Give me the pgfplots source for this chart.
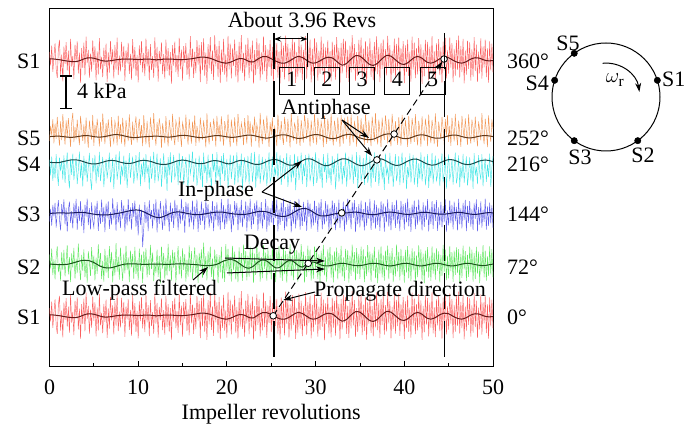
\documentclass[border=0pt]{standalone}
\usepackage{pgfplots}
\pgfplotsset{compat=1.18}
\usepackage{pgfplotstable}
\usepackage{fontspec}
\setmainfont{Liberation Serif}
\usetikzlibrary{arrows.meta}

\definecolor{nred}{RGB}{250,95,95}
\definecolor{norange}{RGB}{242,150,85}
\definecolor{ncyan}{RGB}{70,230,230}
\definecolor{nblue}{RGB}{95,95,235}
\definecolor{ngreen}{RGB}{95,230,95}
\definecolor{fred}{RGB}{105,25,25}
\definecolor{forange}{RGB}{95,55,25}
\definecolor{fcyan}{RGB}{25,75,75}
\definecolor{fblue}{RGB}{25,25,95}
\definecolor{fgreen}{RGB}{25,85,25}

% raw pressure signals, deviation from each probe's baseline
% a=S1 b=S5 c=S4 d=S3 e=S2
\pgfplotstableread{
x a b c d e
0 0.31 -0.18 0.10 -0.32 0.40
0.125 -0.22 0.42 -0.51 0.18 -0.15
0.25 0.55 0.05 0.22 -0.48 0.62
0.375 -0.47 0.68 -0.73 0.33 -0.41
0.5 0.12 -0.26 -0.08 -0.12 0.20
0.625 0.64 0.51 -0.62 0.41 -0.58
0.75 -0.35 -0.09 0.31 -0.56 0.33
0.875 -0.71 0.77 -0.44 0.07 0.71
1 0.43 0.12 -0.92 0.52 -0.29
1.125 0.78 -0.35 0.18 -0.25 0.05
1.25 -0.58 0.59 -0.35 -0.66 -0.63
1.375 0.20 -0.14 0.06 0.36 0.48
1.5 -0.84 0.88 -0.68 -0.08 -0.21
1.625 0.51 0.24 0.27 0.55 0.57
1.75 -0.16 -0.31 -0.81 -0.43 -0.46
1.875 0.69 0.63 -0.15 0.22 0.13
2 -0.42 -0.05 0.38 -0.71 0.76
2.125 0.36 0.72 -0.57 0.14 -0.38
2.25 -0.66 0.17 -1.02 0.46 0.29
2.375 0.82 -0.40 0.14 -0.37 -0.68
2.5 -0.27 0.54 -0.49 0.09 0.44
2.625 0.15 0.93 0.33 -0.58 -0.12
2.75 -0.75 -0.22 -0.70 0.39 0.65
2.875 0.59 0.37 -0.23 -0.19 -0.55
3 -0.08 -0.11 0.19 0.57 0.23
3.125 0.72 0.66 -0.86 -0.64 -0.33
3.25 -0.53 0.08 -0.31 0.27 0.82
3.375 0.28 -0.33 0.41 -0.29 -0.07
3.5 -0.89 0.81 -0.62 0.48 -0.61
3.625 0.46 0.29 -0.04 -0.50 0.38
3.75 -0.32 -0.17 -0.95 0.16 -0.24
3.875 0.67 0.48 0.25 -0.77 0.59
4 -0.61 -0.28 -0.52 0.34 -0.49
4.125 0.90 0.74 0.09 -0.13 0.16
4.25 -0.13 0.01 -0.77 0.58 -0.70
4.375 0.39 -0.43 -0.19 -0.46 0.52
4.5 -0.70 0.62 0.36 0.21 0.08
4.625 0.24 0.19 -0.66 -0.62 -0.44
4.75 -0.46 -0.12 -1.08 0.43 0.68
4.875 0.76 0.85 0.17 -0.27 -0.19
5 -0.20 -0.36 -0.40 -0.55 0.35
5.125 0.52 0.46 0.29 0.30 -0.62
5.25 -0.80 -0.02 -0.83 -0.09 0.27
5.375 0.33 0.70 -0.11 0.49 -0.36
5.5 -0.57 0.21 -0.58 -0.68 0.79
5.625 0.85 -0.38 0.40 0.12 -0.09
5.75 -0.37 0.57 -0.74 -0.41 0.46
5.875 0.11 -0.20 -0.27 0.54 -0.57
6 -0.68 0.90 0.21 -0.33 0.14
6.125 0.47 0.26 -0.97 0.25 -0.66
6.25 -0.24 -0.29 -0.36 -0.73 0.61
6.375 0.63 0.53 0.12 0.38 -0.31
6.5 -0.86 -0.07 -0.64 -0.16 0.37
6.625 0.29 0.67 -0.21 0.47 -0.53
6.75 -0.50 0.14 0.37 -0.60 0.72
6.875 0.74 -0.41 -0.79 0.05 -0.14
7 -0.18 0.76 -0.47 -0.44 0.50
7.125 0.41 0.03 0.16 0.59 -0.69
7.25 -0.73 -0.24 -1.05 -0.24 0.21
7.375 0.58 0.60 -0.08 0.20 -0.42
7.5 -0.38 0.33 0.30 -0.67 0.84
7.625 0.87 -0.34 -0.69 0.44 -0.27
7.75 -0.60 0.82 -0.28 -0.35 0.31
7.875 0.16 -0.10 0.42 0.11 -0.59
8 -0.45 0.49 -0.88 -0.57 0.66
8.125 0.70 -0.27 -0.13 0.52 -0.05
8.25 -0.29 0.73 -0.55 -0.20 -0.64
8.375 0.54 0.11 0.26 0.31 0.43
8.5 -0.82 -0.39 -0.72 -0.70 -0.34
8.625 0.37 0.64 0.07 0.18 0.74
8.75 -0.14 0.22 -1.00 -0.47 -0.22
8.875 0.66 -0.18 -0.33 0.56 0.28
9 -0.55 0.87 0.35 -0.31 -0.68
9.125 0.23 0.06 -0.61 0.23 0.55
9.25 -0.77 -0.32 -0.17 -0.63 -0.11
9.375 0.81 0.58 0.22 0.40 0.41
9.5 -0.34 -0.15 -0.84 -0.14 -0.56
9.625 0.49 0.41 -0.40 0.50 0.69
9.75 -0.63 0.79 0.28 -0.52 -0.37
9.875 0.19 -0.23 -0.71 0.08 0.17
10 -0.88 0.32 -0.24 -0.86 -0.61
10.125 0.56 0.69 0.39 0.34 0.62
10.25 -0.21 -0.06 -0.93 -0.45 -0.25
10.375 0.73 0.45 -0.06 0.15 0.39
10.5 -0.49 -0.37 -0.56 -1.32 -0.71
10.625 0.27 0.84 0.18 -0.60 0.52
10.75 -0.64 0.18 -0.78 0.44 -0.08
10.875 0.83 -0.30 0.31 -0.38 0.63
11 -0.26 0.61 -0.46 0.26 -0.50
11.125 0.42 0.04 -0.12 -0.69 0.22
11.25 -0.79 -0.42 -1.06 0.51 -0.40
11.375 0.61 0.75 0.23 -0.22 0.77
11.5 -0.40 0.27 -0.65 0.13 -0.18
11.625 0.14 -0.13 -0.30 -0.58 0.47
11.75 -0.70 0.92 0.40 0.37 -0.65
11.875 0.88 0.08 -0.82 -0.27 0.10
12 -0.31 -0.35 -0.19 0.55 -0.33
12.125 0.50 0.56 0.33 -0.74 0.58
12.25 -0.85 -0.01 -0.75 0.19 -0.48
12.375 0.35 0.71 -0.37 -0.41 0.34
12.5 -0.17 0.36 0.15 0.48 -0.73
12.625 0.68 -0.44 -0.96 -0.10 0.70
12.75 -0.56 0.52 -0.26 -0.64 -0.16
12.875 0.22 0.15 0.34 0.30 0.45
13 -0.74 -0.26 -0.67 -0.49 -0.59
13.125 0.79 0.80 -0.09 0.58 0.26
13.25 -0.43 0.10 -1.12 -0.25 -0.42
13.375 0.46 -0.38 0.20 0.10 0.81
13.5 -0.62 0.65 -0.51 -0.71 -0.26
13.625 0.30 0.23 0.38 0.42 0.36
13.75 -0.93 -0.16 -0.80 -0.33 -0.63
13.875 0.57 0.89 -0.23 0.21 0.57
14 -0.23 0.02 0.29 -0.57 -0.12
14.125 0.71 -0.33 -0.63 0.53 0.49
14.25 -0.48 0.61 -0.41 -0.19 -0.69
14.375 0.18 0.38 0.11 0.33 0.15
14.5 -0.67 -0.21 -0.90 -0.66 0.72
14.625 0.86 0.77 0.36 0.16 -0.38
14.75 -0.36 0.13 -0.70 -0.40 0.32
14.875 0.40 -0.40 -0.15 0.57 -0.54
15 -0.81 0.55 0.24 -0.28 0.63
15.125 0.53 0.30 -0.87 0.24 -0.21
15.25 -0.12 -0.09 -0.32 -0.76 0.41
15.375 0.65 0.86 0.19 0.45 -0.66
15.5 -0.59 0.07 -0.59 -0.07 0.19
15.625 0.25 -0.31 -1.03 0.39 -0.47
15.75 -0.76 0.68 0.32 -0.54 0.75
15.875 0.92 0.20 -0.45 0.14 -0.30
16 -0.30 -0.27 -0.16 -0.35 0.53
16.125 0.44 0.58 0.41 0.50 -0.58
16.25 -0.71 0.00 -0.76 -0.62 0.08
16.375 0.32 0.83 -0.27 0.27 0.67
16.5 -0.52 -0.36 0.17 -0.21 -0.44
16.625 0.77 0.42 -0.91 0.54 0.38
16.75 -0.19 0.11 -0.50 -0.72 -0.71
16.875 0.58 -0.23 0.26 0.09 0.46
17 -0.87 0.74 -0.68 -0.45 -0.10
17.125 0.69 0.28 0.02 0.46 0.59
17.25 -0.41 -0.12 -0.98 -0.30 -0.52
17.375 0.84 0.63 0.37 0.20 0.86
17.5 -0.62 0.19 -0.43 -0.63 -0.27
17.625 0.28 -0.42 -0.10 0.52 0.33
17.75 -0.94 0.91 -0.82 -0.17 -0.62
17.875 0.61 0.09 0.30 0.35 0.52
18 -0.33 -0.30 -0.61 -0.56 -0.19
18.125 0.89 0.57 -0.20 0.11 0.70
18.25 -0.55 0.25 -1.10 -0.38 -0.48
18.375 0.37 -0.17 0.33 0.49 0.24
18.5 -0.78 0.70 -0.37 -0.69 -0.65
18.625 0.95 0.34 0.08 0.28 0.58
18.75 -0.26 -0.39 -0.85 -0.26 -0.14
18.875 0.52 0.81 0.39 0.43 0.41
19 -0.68 0.06 -0.55 -0.51 -0.72
19.125 0.74 0.47 -0.14 0.15 0.37
19.25 -0.91 -0.20 -0.94 -0.64 -0.31
19.375 0.40 0.79 0.24 0.56 0.69
19.5 -0.47 0.14 -0.47 -0.35 -0.55
19.625 0.82 -0.35 0.35 0.32 0.18
19.75 -0.58 0.60 -0.73 -0.60 -0.67
19.875 0.21 0.31 -0.29 0.19 0.80
20 -0.85 -0.11 0.13 -0.42 -0.24
20.125 0.93 0.87 -1.01 0.58 0.62
20.25 -0.37 0.05 -0.40 -0.28 -0.43
20.375 0.63 -0.41 0.30 0.36 0.30
20.5 -0.73 0.66 -0.66 -0.73 -0.66
20.625 0.45 0.22 -0.18 0.07 0.73
20.75 -0.24 -0.24 0.27 -0.47 -0.22
20.875 0.79 0.75 -0.88 0.48 0.51
21 -0.66 0.12 -0.35 -0.15 -0.58
21.125 0.35 -0.37 0.38 0.41 0.26
21.25 -0.89 0.89 -0.80 -0.66 -0.69
21.375 0.70 0.36 -0.07 0.22 0.67
21.5 -0.42 -0.08 -0.57 -0.37 -0.33
21.625 0.96 0.53 0.33 0.53 0.45
21.75 -0.51 0.26 -1.07 -0.54 -0.64
21.875 0.27 -0.33 -0.22 0.13 0.78
22 -0.81 0.72 0.19 -0.23 -0.20
22.125 0.60 0.17 -0.72 0.47 0.53
22.25 -0.30 -0.27 -0.46 -0.70 -0.62
22.375 0.86 0.84 0.25 0.30 0.35
22.5 -0.72 0.03 -0.87 -0.31 -0.47
22.625 0.48 0.59 -0.12 0.57 0.70
22.75 -0.45 -0.39 0.36 -0.61 -0.28
22.875 0.75 0.40 -0.78 0.18 0.60
23 -0.93 0.13 -0.31 -0.43 -0.71
23.125 0.38 0.78 0.40 0.39 0.43
23.25 -0.60 -0.18 -0.99 -0.12 -0.40
23.375 0.84 0.48 -0.05 0.51 0.82
23.5 -0.35 0.23 -0.63 -0.67 -0.23
23.625 0.64 -0.43 0.31 0.25 0.51
23.75 -0.80 0.93 -0.84 -0.39 -0.66
23.875 0.29 0.10 -0.26 0.44 0.29
24 -0.57 -0.29 0.21 -0.58 -0.53
24.125 0.91 0.67 -0.69 0.10 0.76
24.25 -0.44 0.29 -0.43 -0.25 -0.17
24.375 0.57 -0.14 0.13 0.56 0.47
24.5 -0.86 0.82 -0.92 -0.71 -0.63
24.625 0.41 0.18 -0.31 0.29 0.62
24.75 -0.28 -0.40 0.38 -0.48 -0.34
24.875 0.77 0.56 -0.77 0.21 0.37
25 -0.64 0.07 -0.58 -0.36 -0.59
25.125 0.50 0.74 0.22 0.49 0.71
25.25 -0.83 -0.26 -1.04 -0.62 -0.27
25.375 0.88 0.39 -0.17 0.34 0.44
25.5 -0.39 0.15 -0.51 -0.18 -0.68
25.625 0.66 -0.37 0.39 0.55 0.56
25.75 -0.70 0.86 -0.71 -0.70 -0.12
25.875 0.33 0.27 -0.09 0.16 0.73
26 -0.92 -0.13 0.27 -0.45 -0.51
26.125 0.72 0.61 -0.89 0.42 0.32
26.25 -0.47 0.02 -0.38 -0.29 -0.64
26.375 0.55 -0.32 0.16 0.58 0.66
26.5 -0.76 0.77 -0.66 -0.66 -0.37
26.625 0.94 0.32 -0.24 0.24 0.54
26.75 -0.32 -0.21 0.35 -0.52 -0.70
26.875 0.62 0.69 -0.96 0.37 0.41
27 -0.85 0.11 -0.45 -0.21 -0.25
27.125 0.45 -0.42 0.28 0.52 0.79
27.25 -0.58 0.91 -0.79 -0.74 -0.45
27.375 0.81 0.21 -0.13 0.15 0.36
27.5 -0.36 -0.16 -0.60 -0.40 -0.61
27.625 0.70 0.52 0.32 0.47 0.68
27.75 -0.90 0.34 -1.09 -0.58 -0.18
27.875 0.31 -0.29 -0.20 0.31 0.57
28 -0.66 0.80 0.24 -0.27 -0.66
28.125 0.87 0.04 -0.70 0.57 0.47
28.25 -0.50 -0.36 -0.34 -0.63 -0.39
28.375 0.59 0.64 0.37 0.20 0.80
28.5 -0.79 0.19 -0.86 -0.49 -0.24
28.625 0.39 -0.23 -0.08 0.45 0.51
28.75 -0.41 0.85 -0.55 -0.33 -0.70
28.875 0.92 0.46 0.29 0.26 0.34
29 -0.74 -0.09 -0.97 -0.68 -0.48
29.125 0.53 0.72 -0.19 0.53 0.74
29.25 -0.29 0.26 0.33 -0.14 -0.29
29.375 0.79 -0.38 -0.75 0.38 0.58
29.5 -0.88 0.63 -0.44 -0.59 -0.63
29.625 0.43 0.09 0.20 0.17 0.27
29.75 -0.62 -0.25 -0.93 -0.47 -0.55
29.875 0.85 0.88 -0.28 0.50 0.71
30 -0.34 0.16 0.38 -0.36 -0.20
30.125 0.68 -0.31 -0.81 0.28 0.62
30.25 -0.81 0.73 -0.53 -0.72 -0.57
30.375 0.36 0.35 0.15 0.42 0.40
30.5 -0.55 -0.12 -0.65 -0.23 -0.73
30.625 0.90 0.58 -0.11 0.56 0.55
30.75 -0.43 0.28 -1.01 -0.62 -0.30
30.875 0.63 -0.41 0.31 0.12 0.77
31 -0.95 0.82 -0.39 -0.43 -0.42
31.125 0.48 0.13 -0.02 0.48 0.31
31.25 -0.32 -0.28 -0.80 -0.31 -0.66
31.375 0.76 0.69 0.36 0.35 0.59
31.5 -0.69 0.22 -0.62 -0.68 -0.15
31.625 0.34 -0.17 -0.23 0.21 0.69
31.75 -0.84 0.90 -0.90 -0.54 -0.51
31.875 0.71 0.05 0.25 0.51 0.38
32 -0.46 -0.34 -0.48 -0.20 -0.69
32.125 0.58 0.62 0.11 0.40 0.52
32.25 -0.77 0.30 -1.06 -0.65 -0.26
32.375 0.89 -0.20 -0.29 0.25 0.66
32.5 -0.38 0.75 0.34 -0.39 -0.58
32.625 0.47 0.17 -0.76 0.54 0.45
32.75 -0.92 -0.40 -0.41 -0.57 -0.34
32.875 0.65 0.84 0.18 0.13 0.73
33 -0.53 0.12 -0.87 -0.28 -0.47
33.125 0.82 -0.27 -0.15 0.46 0.28
33.25 -0.27 0.67 -0.60 -0.70 -0.64
33.375 0.74 0.40 0.37 0.31 0.61
33.5 -0.71 -0.10 -0.95 -0.44 -0.21
33.625 0.40 0.79 -0.26 0.58 0.56
33.75 -0.86 0.24 0.22 -0.26 -0.70
33.875 0.55 -0.36 -0.68 0.19 0.35
34 -0.49 0.87 -0.33 -0.61 -0.44
34.125 0.96 0.08 0.30 0.43 0.78
34.25 -0.37 -0.22 -0.84 -0.17 -0.27
34.375 0.61 0.57 -0.10 0.52 0.49
34.5 -0.82 0.33 -0.58 -0.73 -0.62
34.625 0.30 -0.39 0.39 0.24 0.64
34.75 -0.63 0.81 -1.02 -0.42 -0.36
34.875 0.78 0.20 -0.21 0.36 0.42
35 -0.40 -0.15 0.28 -0.55 -0.56
35.125 0.87 0.71 -0.73 0.50 0.70
35.25 -0.75 0.04 -0.45 -0.30 -0.19
35.375 0.44 0.48 0.16 0.17 0.59
35.5 -0.59 -0.33 -0.89 -0.66 -0.68
35.625 0.73 0.86 -0.14 0.45 0.33
35.75 -0.93 0.27 0.35 -0.48 -0.45
35.875 0.52 -0.24 -0.80 0.29 0.76
36 -0.31 0.63 -0.52 -0.22 -0.30
36.125 0.84 0.14 0.23 0.57 0.51
36.25 -0.67 -0.37 -0.99 -0.64 -0.66
36.375 0.38 0.78 -0.07 0.11 0.44
36.5 -0.80 0.32 -0.62 -0.38 -0.24
36.625 0.69 -0.19 0.38 0.51 0.69
36.75 -0.45 0.92 -0.77 -0.59 -0.53
36.875 0.91 0.06 -0.27 0.33 0.26
37 -0.56 -0.30 0.27 -0.45 -0.72
37.125 0.50 0.66 -0.92 0.22 0.58
37.25 -0.87 0.23 -0.36 -0.68 -0.35
37.375 0.66 -0.41 0.17 0.47 0.71
37.5 -0.35 0.74 -0.67 -0.16 -0.50
37.625 0.80 0.16 -0.17 0.39 0.37
37.75 -0.74 -0.13 -1.08 -0.71 -0.63
37.875 0.42 0.83 0.33 0.27 0.55
38 -0.61 0.37 -0.49 -0.34 -0.22
38.125 0.93 -0.26 -0.24 0.55 0.74
38.25 -0.30 0.69 -0.85 -0.52 -0.57
38.375 0.57 0.02 0.36 0.18 0.45
38.5 -0.89 -0.38 -0.56 -0.66 -0.34
38.625 0.35 0.89 0.05 0.44 0.64
38.75 -0.52 0.29 -0.96 -0.27 -0.68
38.875 0.83 -0.18 -0.30 0.32 0.30
39 -0.70 0.60 0.31 -0.57 -0.46
39.125 0.62 0.10 -0.74 0.53 0.78
39.25 -0.40 -0.32 -0.42 -0.40 -0.26
39.375 0.88 0.76 0.24 0.14 0.50
39.5 -0.78 0.18 -0.90 -0.69 -0.62
39.625 0.45 -0.35 -0.12 0.49 0.61
39.75 -0.33 0.85 0.37 -0.24 -0.39
39.875 0.73 0.31 -0.82 0.36 0.34
40 -0.91 -0.07 -0.38 -0.63 -0.70
40.125 0.56 0.64 0.19 0.41 0.57
40.25 -0.48 0.21 -1.05 -0.35 -0.31
40.375 0.79 -0.40 -0.19 0.58 0.72
40.5 -0.63 0.80 -0.59 -0.51 -0.54
40.625 0.32 0.14 0.34 0.21 0.40
40.75 -0.85 -0.28 -0.79 -0.72 -0.65
40.875 0.90 0.72 -0.22 0.34 0.63
41 -0.38 0.35 0.29 -0.19 -0.23
41.125 0.67 -0.21 -0.88 0.50 0.52
41.25 -0.72 0.88 -0.43 -0.61 -0.67
41.375 0.46 0.07 0.18 0.26 0.36
41.5 -0.57 -0.34 -0.97 -0.44 -0.49
41.625 0.85 0.61 -0.05 0.54 0.75
41.75 -0.44 0.25 -0.64 -0.32 -0.21
41.875 0.60 -0.39 0.38 0.15 0.59
42 -0.94 0.79 -0.75 -0.66 -0.62
42.125 0.39 0.17 -0.29 0.43 0.43
42.25 -0.65 -0.16 0.22 -0.53 -0.73
42.375 0.78 0.70 -0.90 0.30 0.55
42.5 -0.34 0.30 -0.47 -0.25 -0.28
42.625 0.70 -0.37 0.31 0.56 0.68
42.75 -0.80 0.86 -1.00 -0.70 -0.51
42.875 0.51 0.09 -0.16 0.19 0.32
43 -0.46 -0.25 -0.61 -0.41 -0.64
43.125 0.92 0.65 0.36 0.48 0.71
43.25 -0.69 0.28 -0.84 -0.60 -0.35
43.375 0.34 -0.29 -0.26 0.37 0.47
43.5 -0.83 0.91 0.26 -0.29 -0.59
43.625 0.64 0.13 -0.72 0.52 0.63
43.75 -0.37 -0.40 -0.50 -0.68 -0.24
43.875 0.81 0.58 0.14 0.23 0.52
44 -0.60 0.22 -0.93 -0.46 -0.69
44.125 0.48 -0.11 -0.11 0.45 0.38
44.25 -0.90 0.77 0.34 -0.55 -0.45
44.375 0.71 0.34 -0.79 0.28 0.77
44.5 -0.42 -0.31 -0.40 -0.35 -0.30
44.625 0.86 0.68 0.21 0.55 0.58
44.75 -0.73 0.04 -1.03 -0.71 -0.61
44.875 0.37 0.84 -0.24 0.12 0.34
45 -0.54 -0.21 0.30 -0.47 -0.54
45.125 0.88 0.42 -0.68 0.51 0.72
45.25 -0.31 -0.36 -0.44 -0.38 -0.25
45.375 0.65 0.73 0.12 0.33 0.49
45.5 -0.87 0.26 -0.88 -0.62 -0.67
45.625 0.43 -0.19 -0.20 0.46 0.55
45.75 -0.62 0.89 0.37 -0.30 -0.40
45.875 0.77 0.11 -0.83 0.25 0.67
46 -0.39 -0.34 -0.55 -0.66 -0.33
46.125 0.94 0.62 0.27 0.57 0.60
46.25 -0.70 0.20 -0.98 -0.43 -0.71
46.375 0.54 -0.40 -0.14 0.20 0.42
46.5 -0.48 0.81 -0.63 -0.58 -0.52
46.625 0.82 0.32 0.32 0.41 0.74
46.75 -0.92 -0.09 -0.81 -0.26 -0.19
46.875 0.36 0.71 -0.25 0.53 0.53
47 -0.58 0.18 0.23 -0.69 -0.64
47.125 0.75 -0.32 -0.91 0.30 0.39
47.25 -0.35 0.87 -0.46 -0.37 -0.48
47.375 0.68 0.05 0.19 0.48 0.70
47.5 -0.81 -0.27 -0.71 -0.52 -0.29
47.625 0.41 0.66 -0.03 0.16 0.58
47.75 -0.66 0.36 -1.04 -0.64 -0.66
47.875 0.89 -0.22 0.35 0.39 0.45
48 -0.44 0.78 -0.52 -0.21 -0.57
48.125 0.59 0.13 -0.18 0.55 0.69
48.25 -0.86 -0.38 -0.86 -0.70 -0.35
48.375 0.32 0.59 0.28 0.24 0.51
48.5 -0.53 0.27 -0.39 -0.44 -0.72
48.625 0.84 -0.15 -0.68 0.47 0.41
48.75 -0.74 0.92 0.31 -0.56 -0.26
48.875 0.52 0.08 -0.94 0.14 0.76
49 -0.30 -0.29 -0.29 -0.33 -0.50
49.125 0.79 0.70 0.16 0.58 0.55
49.25 -0.68 0.23 -0.77 -0.63 -0.63
49.375 0.45 -0.41 -0.10 0.27 0.32
49.5 -0.89 0.83 -0.58 -0.49 -0.44
49.625 0.72 0.15 0.33 0.42 0.71
49.75 -0.41 -0.20 -0.96 -0.39 -0.38
49.875 0.63 0.67 -0.21 0.31 0.60
50 -0.50 0.30 0.24 -0.57 -0.51
}\noise

% low-pass filtered signals, deviation from baseline
\pgfplotstableread{
x f1 f5 f4 f3 f2
0 0.04 0.00 0.00 0.00 0.02
0.5 0.03 0.01 -0.02 0.01 0.01
1 0.01 0.02 -0.02 0.02 0.00
1.5 -0.02 0.00 0.02 0.02 0.00
2 -0.05 -0.02 0.06 0.01 0.01
2.5 -0.07 -0.03 0.09 0.02 0.05
3 -0.07 -0.01 0.09 0.03 0.10
3.5 -0.02 0.02 0.06 0.04 0.15
4 0.05 0.04 0.00 0.03 0.17
4.5 0.08 0.03 -0.05 0.00 0.15
5 0.06 0.00 -0.07 -0.03 0.08
5.5 0.01 -0.02 -0.05 -0.05 -0.02
6 -0.04 -0.01 0.00 -0.06 -0.10
6.5 -0.05 0.02 0.05 -0.06 -0.13
7 -0.03 0.06 0.07 -0.04 -0.12
7.5 0.00 0.08 0.05 -0.01 -0.07
8 0.02 0.06 0.00 0.02 -0.02
8.5 0.03 0.02 -0.04 0.06 0.02
9 0.03 -0.02 -0.05 0.10 0.03
9.5 0.02 -0.04 -0.02 0.13 0.03
10 0.01 -0.03 0.04 0.13 0.02
10.5 0.02 -0.01 0.07 0.08 0.01
11 0.03 0.00 0.06 0.00 0.01
11.5 0.02 0.01 0.02 -0.09 0.02
12 0.00 0.02 -0.04 -0.15 0.02
12.5 0.01 0.01 -0.08 -0.16 0.02
13 0.03 -0.01 -0.09 -0.10 0.01
13.5 0.03 -0.02 -0.06 -0.02 0.01
14 0.02 0.00 0.00 0.04 0.02
14.5 0.01 0.03 0.06 0.06 0.03
15 0.01 0.05 0.08 0.04 0.03
15.5 0.02 0.04 0.06 0.00 0.02
16 0.04 0.01 0.01 -0.03 0.01
16.5 0.07 -0.02 -0.04 -0.05 0.00
17 0.10 -0.04 -0.06 -0.05 -0.02
17.5 0.10 -0.03 -0.04 -0.02 -0.04
18 0.07 0.00 0.02 0.01 -0.04
18.5 0.01 0.03 0.06 0.04 -0.02
19 -0.06 0.04 0.05 0.05 0.03
19.5 -0.11 0.02 0.00 0.05 0.12
20 -0.13 -0.01 -0.06 0.02 0.18
20.5 -0.08 -0.03 -0.05 -0.01 0.20
21 0.00 -0.02 0.02 -0.03 0.14
21.5 0.05 0.01 0.07 -0.04 0.02
22 0.02 0.04 0.05 -0.04 -0.10
22.5 -0.07 0.06 -0.01 -0.01 -0.14
23 -0.08 0.04 -0.07 0.03 -0.06
23.5 0.03 0.00 -0.09 0.07 0.10
24 0.12 -0.04 -0.05 0.08 0.18
24.5 0.12 -0.06 0.03 0.06 0.14
25 0.04 -0.03 0.09 0.00 0.00
25.5 -0.05 0.02 0.10 -0.07 -0.13
26 -0.12 0.06 0.05 -0.11 -0.10
26.5 -0.13 0.07 -0.04 -0.12 0.05
27 -0.06 0.03 -0.11 -0.07 0.16
27.5 0.05 -0.03 -0.11 0.03 0.12
28 0.13 -0.07 -0.04 0.13 -0.02
28.5 0.09 -0.06 0.06 0.19 -0.10
29 -0.02 -0.01 0.13 0.18 0.02
29.5 -0.12 0.05 0.12 0.10 0.10
30 -0.12 0.08 0.04 -0.01 0.08
30.5 -0.04 0.06 -0.06 -0.09 0.00
31 0.06 0.00 -0.13 -0.10 -0.05
31.5 0.10 -0.06 -0.12 -0.07 -0.05
32 0.05 -0.08 -0.04 -0.03 -0.01
32.5 -0.10 -0.04 0.06 0.00 0.03
33 -0.21 0.03 0.13 0.01 0.05
33.5 -0.14 0.08 0.12 0.02 0.03
34 0.03 0.08 0.04 0.04 -0.01
34.5 0.16 0.02 -0.06 0.05 -0.04
35 0.14 -0.05 -0.13 0.03 -0.04
35.5 0.00 -0.10 -0.12 -0.01 -0.01
36 -0.16 -0.12 -0.04 -0.04 0.03
36.5 -0.22 -0.10 0.06 -0.05 0.05
37 -0.13 -0.03 0.13 -0.03 0.04
37.5 0.04 0.05 0.12 0.01 0.00
38 0.17 0.10 0.04 0.04 -0.04
38.5 0.14 0.10 -0.06 0.05 -0.05
39 0.00 0.04 -0.12 0.03 -0.02
39.5 -0.14 -0.04 -0.11 0.00 0.02
40 -0.18 -0.08 -0.03 -0.03 0.05
40.5 -0.09 -0.07 0.06 -0.04 0.04
41 0.06 -0.01 0.12 -0.02 0.00
41.5 0.13 0.05 0.11 0.01 -0.04
42 0.06 0.07 0.03 0.04 -0.05
42.5 -0.08 0.04 -0.06 0.04 -0.02
43 -0.13 -0.02 -0.11 0.02 0.02
43.5 -0.07 -0.06 -0.10 -0.01 0.05
44 0.04 -0.06 -0.03 -0.03 0.04
44.5 0.10 -0.02 0.05 -0.03 0.00
45 0.08 0.03 0.10 -0.01 -0.04
45.5 -0.02 0.06 0.09 0.02 -0.05
46 -0.10 0.05 0.03 0.04 -0.02
46.5 -0.13 0.00 -0.05 0.03 0.02
47 -0.07 -0.04 -0.09 0.00 0.05
47.5 0.03 -0.05 -0.08 -0.03 0.04
48 0.08 -0.02 -0.02 -0.04 0.00
48.5 0.06 0.02 0.05 -0.02 -0.03
49 -0.01 0.04 0.08 0.01 -0.04
49.5 -0.04 0.03 0.07 0.03 -0.01
50 -0.03 0.00 0.02 0.02 0.02
}\filt

\begin{document}
\fontsize{22}{26}\selectfont
\begin{tikzpicture}[x=1pt,y=1pt]
\path[use as bounding box] (0pt,0pt) rectangle (686pt,425pt);
\begin{axis}[
    at={(49.5pt,58pt)}, anchor=south west,
    scale only axis,
    width=443.5pt, height=358.4pt,
    xmin=0, xmax=50, ymin=0, ymax=14,
    axis line style={line width=1pt},
    tick style={line width=0.9pt, black},
    tick align=inside,
    xtick={0,10,...,50},
    minor xtick={5,15,...,45},
    ytick=\empty,
    minor ytick={1,...,13},
    xtick pos=bottom, ytick pos=left,
    major tick length=6pt, minor tick length=3.5pt,
    tick label style={font=\fontsize{22}{26}\selectfont},
    xticklabel style={anchor=base, yshift=-28pt},
    /pgf/number format/assume math mode=true,
]
% raw signals
\addplot[norange, line width=0.45pt] table[x=x, y expr=\thisrow{b}+9] {\noise};
\addplot[ncyan, line width=0.45pt] table[x=x, y expr=\thisrow{c}+8] {\noise};
\addplot[nred, line width=0.45pt] table[x=x, y expr=\thisrow{a}+12] {\noise};
\addplot[nblue, line width=0.45pt] table[x=x, y expr=\thisrow{d}+6] {\noise};
\addplot[ngreen, line width=0.45pt] table[x=x, y expr=\thisrow{e}+4] {\noise};
\addplot[nred, line width=0.45pt] table[x=x, y expr=\thisrow{a}+2] {\noise};
% filtered signals
\addplot[fred, smooth, line width=1pt] table[x=x, y expr=\thisrow{f1}+12] {\filt};
\addplot[forange, smooth, line width=1pt] table[x=x, y expr=\thisrow{f5}+9] {\filt};
\addplot[fcyan, smooth, line width=1pt] table[x=x, y expr=\thisrow{f4}+8] {\filt};
\addplot[fblue, smooth, line width=1pt] table[x=x, y expr=\thisrow{f3}+6] {\filt};
\addplot[fgreen, smooth, line width=1pt] table[x=x, y expr=\thisrow{f2}+4] {\filt};
\addplot[fred, smooth, line width=1pt] table[x=x, y expr=\thisrow{f1}+2] {\filt};
% propagation line and crossing points
\addplot[black, line width=1pt, dash pattern=on 7pt off 4pt, shorten >=3pt,
    -{Stealth[length=9pt,width=6pt]}] coordinates {(25.2,1.99) (44.48,12.03)};
\addplot[only marks, mark=*, mark size=3.3pt,
    mark options={fill=white, draw=black, line width=0.8pt}] coordinates {
    (25.22,2.0) (29.17,4.05) (32.94,6.02) (36.91,8.09) (38.85,9.1) (44.48,12.03)};
\end{axis}

% probe labels
\begin{scope}[every node/.style={inner sep=0pt}]
\foreach \yy/\lab in {365/S1, 288/S5, 262/S4, 212/S3, 159/S2, 109/S1}
  \node[anchor=base east] at (40.5,\yy-8.5) {\lab};
\foreach \yy/\lab in {365/360°, 288/252°, 262/216°, 212/144°, 159/72°, 109/0°}
  \node[anchor=base west] at (507,\yy-8.5) {\lab};
\node[anchor=base] at (271.25,5) {Impeller revolutions};

% guide lines and period boxes
\draw[line width=1.1pt, dash pattern=on 36pt off 12pt] (274,392) -- (274,68);
\draw[line width=1.1pt, dash pattern=on 36pt off 12pt] (444.3,392) -- (444.3,68);
\draw[line width=1pt] (307.6,392) -- (307.6,358);
\draw[line width=1pt, {Stealth[length=7pt,width=5pt]}-{Stealth[length=7pt,width=5pt]}] (274,386) -- (307.6,386);
\node[anchor=base] at (302,397.7) {About 3.96 Revs};
\foreach \i in {1,...,5} {
  \draw[line width=0.9pt] ({279+35.3*(\i-1)},331) rectangle ({304+35.3*(\i-1)},358);
  \node[anchor=base] at ({291.5+35.3*(\i-1)},338) {\i};
}
% scale bar
\draw[line width=1.2pt] (66,349) -- (66,316.7);
\draw[line width=1.2pt] (60,349) -- (72,349);
\draw[line width=1.2pt] (60,316.7) -- (72,316.7);
\node[anchor=base west] at (77,326) {4 kPa};

% annotations
\node[anchor=base] at (326,310) {Antiphase};
\draw[line width=1pt, -{Stealth[length=9pt,width=6pt]}] (342,305) -- (369,287);
\draw[line width=1pt, -{Stealth[length=9pt,width=6pt]}] (342,305) -- (372,269);
\node[anchor=base] at (216,228) {In-phase};
\draw[line width=1pt, -{Stealth[length=9pt,width=6pt]}] (262,233) -- (302,264);
\draw[line width=1pt, -{Stealth[length=9pt,width=6pt]}] (262,233) -- (302,218);
\node[anchor=base] at (272,175) {Decay};
\draw[line width=1pt, -{Stealth[length=9pt,width=6pt]}] (225,167) -- (325,164);
\draw[line width=1pt, -{Stealth[length=9pt,width=6pt]}] (227,152) -- (325,156);
\node[anchor=base] at (139.5,129) {Low-pass filtered};
\draw[line width=1pt, -{Stealth[length=9pt,width=6pt]}] (193,145) -- (208,158);
\node[anchor=base] at (400,128) {Propagate direction};
\draw[line width=1pt, -{Stealth[length=9pt,width=6pt]}] (315,133) -- (283.3,125);

% probe layout sketch
\draw[line width=1pt] (606,328) circle[radius=54];
\draw[line width=1pt, -{Stealth[length=9pt,width=6pt]}] (602.7,361.7) arc[start angle=96, end angle=8, radius=33.5];
\node at (615,345) {$\omega_{\mathrm{r}}$};
\node[anchor=base] at (568,374) {S5};
\node[anchor=base east] at (549,334) {S4};
\node[anchor=base west] at (662,338) {S1};
\node[anchor=base] at (580,260) {S3};
\node[anchor=base] at (643,262) {S2};
\end{scope}

\begin{axis}[
    at={(606pt,328pt)}, anchor=center,
    scale only axis, width=108pt, height=108pt,
    xmin=-1, xmax=1, ymin=-1, ymax=1,
    axis lines=none, clip=false,
]
\addplot[only marks, mark=*, mark size=3.2pt, black] coordinates {
    (0.951,0.309) (0.588,-0.809) (-0.588,-0.809) (-0.951,0.309) (-0.588,0.809)};
\end{axis}
\end{tikzpicture}
\end{document}
